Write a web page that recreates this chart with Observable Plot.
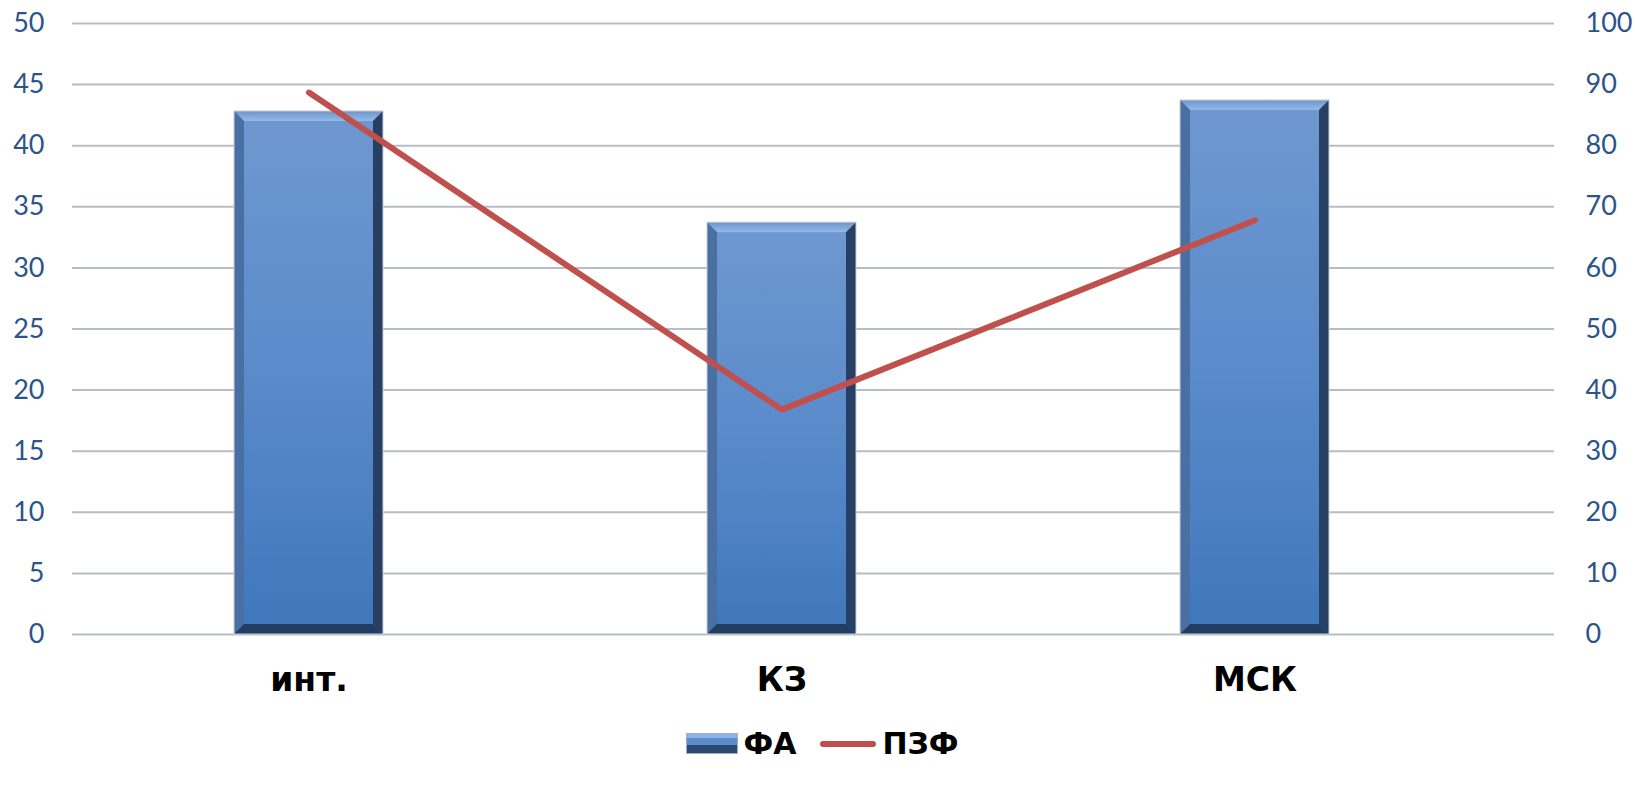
<!DOCTYPE html>
<html>
<head>
<meta charset="utf-8">
<script src="https://cdn.jsdelivr.net/npm/d3@7"></script>
<script src="https://cdn.jsdelivr.net/npm/@observablehq/plot@0.6"></script>
<style>
  html, body { margin: 0; padding: 0; background: #fff; }
  body { width: 1635px; height: 793px; overflow: hidden; font-family: "DejaVu Sans", sans-serif; }
  #legend { display: flex; justify-content: center; align-items: center; margin-top: 16px; padding-left: 10px;
            font-weight: bold; font-size: 30px; color: #000; font-family: "DejaVu Sans", sans-serif; }
  .sw-bar { width: 52px; height: 21px; box-sizing: border-box; margin-right: 5px;
            background: linear-gradient(#8db4e6 0 20%, #5d8dca 20% 60%, #2a4a72 60%);
            border: 1px solid #9db0c8; }
  .sw-line { width: 56px; height: 6px; border-radius: 3px; background: #C0504D; margin: 0 6px 0 24px; }
</style>
</head>
<body>
<div id="chart"></div>
<div id="legend">
  <span class="sw-bar"></span><span>ФА</span>
  <span class="sw-line"></span><span>ПЗФ</span>
</div>
<script>
const categories = ["инт.", "КЗ", "МСК"];
const faValues = [42.8, 33.7, 43.7];
const pzfValues = [88.7, 36.8, 67.8];
const leftTicks = [0, 5, 10, 15, 20, 25, 30, 35, 40, 45, 50];
const rightTicks = [0, 10, 20, 30, 40, 50, 60, 70, 80, 90, 100];

const data = categories.map((c, i) => ({cat: c, fa: faValues[i], pzf: pzfValues[i]}));
const ratio = 50 / 100;
const bev = 10;

// Draws beveled (3D-looking) bars on top of the rects Plot computed
function bevelRender(index, scales, values, dimensions, context, next) {
  const g = next(index, scales, values, dimensions, context);
  const ns = "http://www.w3.org/2000/svg";
  g.querySelectorAll("rect").forEach(r => {
    const x = +r.getAttribute("x"), y = +r.getAttribute("y");
    const w = +r.getAttribute("width"), h = +r.getAttribute("height");
    const x2 = x + w, y2 = y + h;
    const polys = [
      [[x, y], [x2, y], [x2 - bev, y + bev], [x + bev, y + bev], "url(#topGrad)"],
      [[x, y], [x + bev, y + bev], [x + bev, y2 - bev], [x, y2], "#4a70a3"],
      [[x2, y], [x2, y2], [x2 - bev, y2 - bev], [x2 - bev, y + bev], "#263f62"],
      [[x, y2], [x + bev, y2 - bev], [x2 - bev, y2 - bev], [x2, y2], "#233d62"]
    ];
    polys.forEach(p => {
      const el = document.createElementNS(ns, "polygon");
      el.setAttribute("points", p.slice(0, 4).map(q => q.join(",")).join(" "));
      el.setAttribute("fill", p[4]);
      g.appendChild(el);
    });
    const out = document.createElementNS(ns, "rect");
    out.setAttribute("x", x); out.setAttribute("y", y);
    out.setAttribute("width", w); out.setAttribute("height", h);
    out.setAttribute("fill", "none"); out.setAttribute("stroke", "#c9cdd3"); out.setAttribute("stroke-width", 1);
    g.appendChild(out);
  });
  return g;
}

const chart = Plot.plot({
  width: 1635,
  height: 710,
  marginTop: 23,
  marginBottom: 76,
  marginLeft: 72,
  marginRight: 81,
  style: {fontFamily: "Lato, 'Open Sans', sans-serif", background: "#fff"},
  x: {domain: categories, range: [71, 1492], paddingInner: 0.684, paddingOuter: 0.342, label: null},
  y: {domain: [0, 50], label: null},
  marks: [
    Plot.ruleY(leftTicks, {stroke: "#b8bdc5", strokeWidth: 2}),
    Plot.barY(data, {x: "cat", y: "fa", fill: "url(#barGrad)", render: bevelRender}),
    Plot.line(data, {x: "cat", y: d => d.pzf * ratio, stroke: "#C0504D", strokeWidth: 6, strokeLinecap: "round", strokeLinejoin: "miter"}),
    Plot.axisY(leftTicks, {anchor: "left", tickSize: 0, tickPadding: 28, fontSize: 27, fill: "#2b5489", label: null}),
    Plot.axisY(rightTicks.map(t => t * ratio), {anchor: "right", tickSize: 0, tickPadding: 31, fontSize: 27, fill: "#2b5489", label: null,
      tickFormat: d => String(Math.round(d / ratio))}),
    Plot.axisX({anchor: "bottom", tickSize: 0, tickPadding: 33, fontSize: 33, fontWeight: "bold", fill: "#000", label: null,
      fontFamily: "'DejaVu Sans', sans-serif"})
  ]
});

const ns = "http://www.w3.org/2000/svg";
const defs = document.createElementNS(ns, "defs");
defs.innerHTML = `<linearGradient id="barGrad" x1="0" y1="0" x2="0" y2="1">
  <stop offset="0" stop-color="#6f98cf"/>
  <stop offset="0.5" stop-color="#5a8bcb"/>
  <stop offset="1" stop-color="#3f77bb"/>
</linearGradient>
<linearGradient id="topGrad" x1="0" y1="0" x2="0" y2="1">
  <stop offset="0" stop-color="#6f95c8"/>
  <stop offset="1" stop-color="#92b9ec"/>
</linearGradient>`;
chart.insertBefore(defs, chart.firstChild);
document.getElementById("chart").appendChild(chart);
</script>
</body>
</html>
